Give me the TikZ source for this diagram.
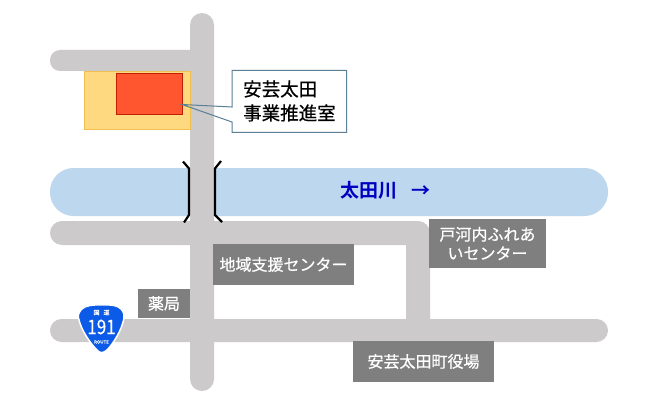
\documentclass[tikz,border=0pt]{standalone}
\usepackage{fontspec}
\setmainfont{Noto Sans CJK JP}[RawFeature={embolden=0.6}]
\newfontfamily\riverfont{Noto Sans CJK JP Bold}
\usetikzlibrary{calc}
\definecolor{roadgray}{HTML}{CCCACB}
\definecolor{riverblue}{HTML}{BDD7EE}
\definecolor{sitefill}{HTML}{FFD97F}
\definecolor{siteline}{HTML}{EFC050}
\definecolor{officefill}{HTML}{FF5630}
\definecolor{officeline}{HTML}{C02000}
\definecolor{boxgray}{HTML}{7F7F7F}
\definecolor{calloutline}{HTML}{5B7F95}
\definecolor{rivertext}{HTML}{0000C0}
\definecolor{shieldblue}{HTML}{0B5BE8}
\tikzset{
    road/.style={fill=roadgray,draw=none},
    labelbox/.style={fill=boxgray,text=white,inner sep=0pt,align=center,font=\fontsize{16}{19}\selectfont},
    bridge/.style={draw=black,line width=2.2pt}
}
\begin{document}
\begin{tikzpicture}[x=1pt,y=-1pt]
\useasboundingbox (0,0) rectangle (665,412);
\fill[white] (0,0) rectangle (665,412);
\fill[riverblue,rounded corners=23.5pt] (50,168) rectangle (608,216);
\fill[road,rounded corners=10pt] (50,50) rectangle (202,71);
\fill[road,rounded corners=11.5pt] (50,319) rectangle (608,342);
\fill[road] (62,221) -- (418,221) arc [start angle=90, end angle=0, x radius=12, y radius=-12] -- (430,330) -- (406,330) -- (406,245) -- (62,245) arc [start angle=270, end angle=90, radius=12, y radius=-12] -- cycle;
\fill[road,rounded corners=12pt] (190,13) rectangle (214,391);
\draw[draw=siteline,fill=sitefill,line width=0.8pt] (84.5,71) rectangle (190,129.5);
\draw[draw=officeline,fill=officefill,line width=0.8pt] (116,73) rectangle (182,114.5);
\coordinate (CalloutTip) at (182,104.5);
\coordinate (CalloutNW) at (232,70.5);
\coordinate (CalloutNE) at (346.5,70.5);
\coordinate (CalloutSE) at (346.5,132.5);
\coordinate (CalloutSW) at (232,132.5);
\fill[white] (CalloutNW) rectangle (CalloutSE);
\draw[draw=calloutline,line width=1pt] (CalloutNW) -- (CalloutNE) -- (CalloutSE) -- (CalloutSW) -- (232,122) -- (CalloutTip) -- (232,107) -- cycle;
\node[anchor=west,align=left,inner sep=0pt,font=\fontsize{18.5}{24}\selectfont] (office) at (243,101) {安芸太田\\事業推進室};
\coordinate (BridgeLA) at (183,161.5);
\coordinate (BridgeLB) at (189,168.5);
\coordinate (BridgeLC) at (189,215);
\coordinate (BridgeLD) at (184,222.5);
\coordinate (BridgeRA) at (221,161);
\coordinate (BridgeRB) at (215,168.5);
\coordinate (BridgeRC) at (215,215);
\coordinate (BridgeRD) at (222,222);
\draw[bridge] (BridgeLA) -- (BridgeLB) -- (BridgeLC) -- (BridgeLD);
\draw[bridge] (BridgeRA) -- (BridgeRB) -- (BridgeRC) -- (BridgeRD);
\node[text=rivertext,font=\fontsize{19}{20}\selectfont\riverfont,inner sep=0pt,anchor=west] (river) at (340,190) {太田川\hspace{14pt}→};
\node[labelbox,minimum width=141pt,minimum height=41pt] (chiiki) at (283.5,264.5) {地域支援センター};
\node[labelbox,minimum width=52pt,minimum height=29pt] (yakkyoku) at (164,303.5) {薬局};
\node[labelbox,minimum width=117pt,minimum height=49pt] (fureai) at (487.5,243.5) {戸河内ふれあ\\いセンター};
\node[labelbox,minimum width=141pt,minimum height=41pt] (yakuba) at (423.5,361.5) {安芸太田町役場};
\draw[white,line width=1.5pt,fill=shieldblue] (90,305.5) .. controls (96,304.5) and (109,304.5) .. (114,305.5)
    .. controls (120,306.5) and (125,311) .. (124,318)
    .. controls (122,330) and (113,344) .. (107,350)
    .. controls (103,353.5) and (100,353.5) .. (97,350)
    .. controls (90,343) and (81,330) .. (78.5,318)
    .. controls (77.5,311) and (83,306.5) .. (90,305.5) -- cycle;
\node[text=white,inner sep=0pt,font=\fontsize{6}{6}\selectfont] (kokudo) at (101.5,312.5) {国\hspace{4pt}道};
\node[text=white,inner sep=0pt,font=\fontsize{20}{20}\selectfont] (number) at (101.5,327) {\scalebox{.85}[1]{191}};
\node[text=white,inner sep=0pt,font=\fontsize{4.5}{5}\selectfont] (routetext) at (101.5,342) {ROUTE};
\end{tikzpicture}
\end{document}
